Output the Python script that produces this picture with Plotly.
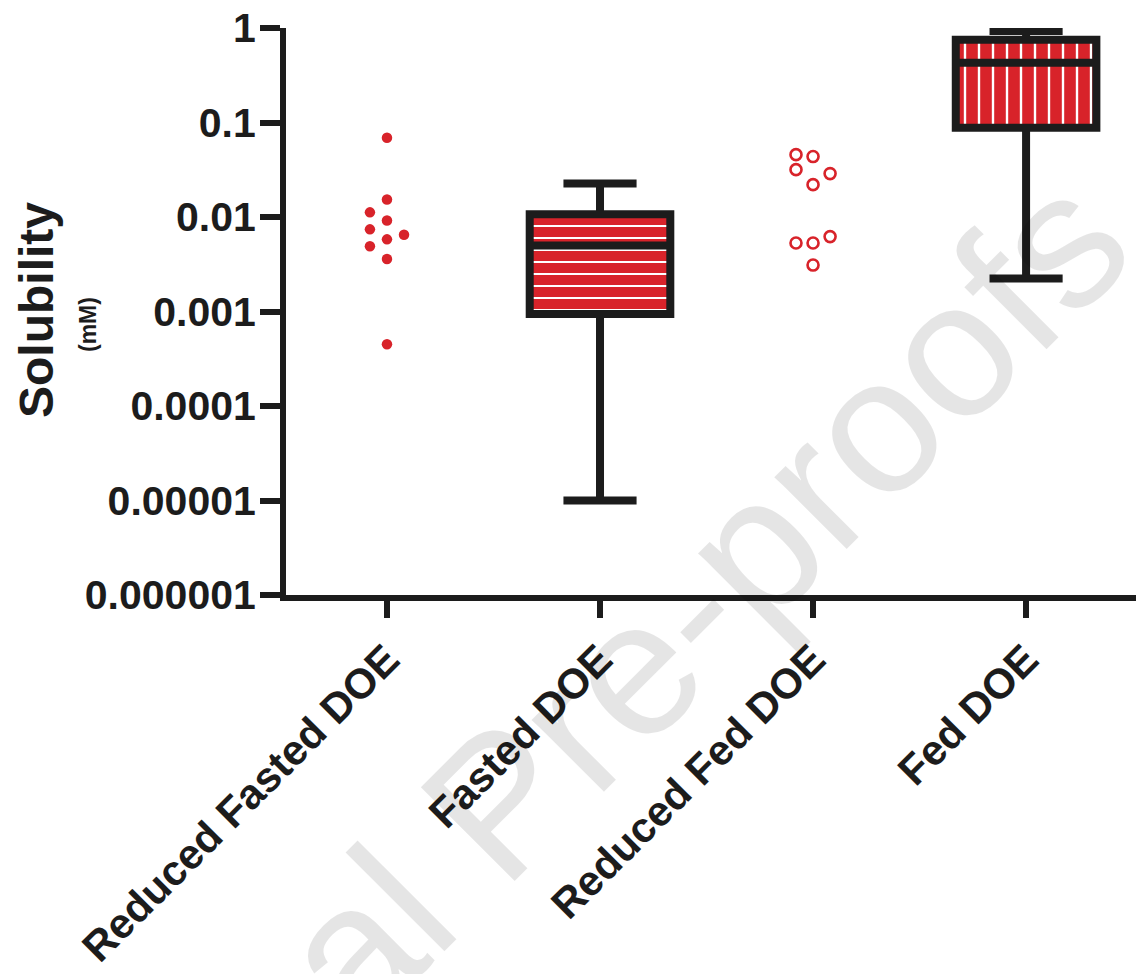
import plotly.graph_objects as go

# ---------------- data ----------------
categories = ["Reduced Fasted DOE", "Fasted DOE", "Reduced Fed DOE", "Fed DOE"]
y_tick_vals = [1e-6, 1e-5, 1e-4, 1e-3, 1e-2, 1e-1, 1]
y_tick_text = ["0.000001", "0.00001", "0.0001", "0.001", "0.01", "0.1", "1"]

# individual points (mM)
reduced_fasted = [0.069, 0.0153, 0.0112, 0.0092, 0.0074, 0.0065, 0.0058, 0.0049, 0.0036, 0.00045]
reduced_fasted_slot = [0, 0, -1, 0, -1, 1, 0, -1, 0, 0]   # beeswarm column
reduced_fed = [0.0457, 0.0436, 0.0317, 0.0288, 0.0220, 0.0062, 0.0053, 0.0053, 0.0031]
reduced_fed_slot = [-1, 0, -1, 1, 0, 1, -1, 0, 0]

# box summaries (Fasted DOE, Fed DOE)
box_cats = ["Fasted DOE", "Fed DOE"]
box_min = [0.00001, 0.00224]
box_q1 = [0.00094, 0.088]
box_median = [0.0050, 0.43]
box_q3 = [0.0107, 0.75]
box_max = [0.0226, 0.93]

# ---------------- style ----------------
RED = "#D8232A"
INK = "#1c1c1c"
FONT = "Liberation Sans, Arial, sans-serif"
SLOT = 0.08
BOX_W = 0.66

pos = {c: i for i, c in enumerate(categories)}

fig = go.Figure()

# patterned box fill (drawn as floating bars)
fig.add_trace(go.Bar(
    x=[pos[c] for c in box_cats],
    y=[q3 - q1 for q1, q3 in zip(box_q1, box_q3)],
    base=box_q1,
    width=BOX_W,
    marker=dict(
        color=RED,
        line=dict(width=0),
        pattern=dict(shape=["-", "|"], fgcolor="white", bgcolor=RED,
                     size=[12, 14], solidity=0.17, fillmode="replace"),
    ),
    hoverinfo="skip",
    showlegend=False,
))

# box outlines, medians and whiskers
fig.add_trace(go.Box(
    x=[pos[c] for c in box_cats],
    q1=box_q1, median=box_median, q3=box_q3,
    lowerfence=box_min, upperfence=box_max,
    width=BOX_W, whiskerwidth=0.52,
    fillcolor="rgba(0,0,0,0)",
    line=dict(color=INK, width=8),
    boxpoints=False,
    showlegend=False,
))

# scatter points
fig.add_trace(go.Scatter(
    x=[pos["Reduced Fasted DOE"] + s * SLOT for s in reduced_fasted_slot],
    y=reduced_fasted,
    mode="markers",
    marker=dict(symbol="circle", size=10.5, color=RED, line=dict(width=0)),
    showlegend=False,
))
fig.add_trace(go.Scatter(
    x=[pos["Reduced Fed DOE"] + s * SLOT for s in reduced_fed_slot],
    y=reduced_fed,
    mode="markers",
    marker=dict(symbol="circle-open", size=11, color=RED, line=dict(width=2.6, color=RED)),
    showlegend=False,
))

L, R, T, B = 286, 0, 28, 974 - 595
W, H = 1136, 974
pw = W - L - R
ph = H - T - B

def px(xpix):
    return (xpix - L) / pw

def py(ypix):
    return (H - B - ypix) / ph

fig.update_layout(
    width=W, height=H,
    margin=dict(l=L, r=R, t=T, b=B, pad=0),
    paper_bgcolor="white", plot_bgcolor="white",
    font=dict(family=FONT, color=INK),
    bargap=0,
    xaxis=dict(
        range=[-0.474, 3.516],
        tickmode="array",
        tickvals=list(range(len(categories))),
        ticktext=categories,
        tickangle=-45,
        tickfont=dict(size=42, family=FONT, weight="bold", color=INK),
        ticks="outside", ticklen=17, tickwidth=6, tickcolor=INK,
        showline=True, linewidth=6, linecolor=INK,
        showgrid=False, zeroline=False,
    ),
    yaxis=dict(
        type="log",
        range=[-6, 0],
        tickmode="array",
        tickvals=y_tick_vals,
        ticktext=y_tick_text,
        tickfont=dict(size=41, family=FONT, weight="bold", color=INK),
        ticks="outside", ticklen=20, tickwidth=6, tickcolor=INK,
        ticklabelstandoff=-4,
        showline=True, linewidth=6, linecolor=INK,
        showgrid=False, zeroline=False,
    ),
    annotations=[
        dict(text="Solubility", x=px(36), y=py(310), xref="paper", yref="paper",
             xanchor="center", yanchor="middle",
             textangle=-90, showarrow=False,
             font=dict(size=48, family=FONT, weight="bold", color=INK)),
        dict(text="(mM)", x=px(88), y=py(325), xref="paper", yref="paper",
             xanchor="center", yanchor="middle",
             textangle=-90, showarrow=False,
             font=dict(size=23, family=FONT, weight="bold", color=INK)),
        dict(text="Journal Pre-proofs", x=px(532), y=py(769), xref="paper", yref="paper",
             xanchor="center", yanchor="middle",
             textangle=-45, showarrow=False,
             font=dict(size=193, family=FONT, color="rgba(0,0,0,0.1)")),
    ],
)

fig.write_html("out.html")
